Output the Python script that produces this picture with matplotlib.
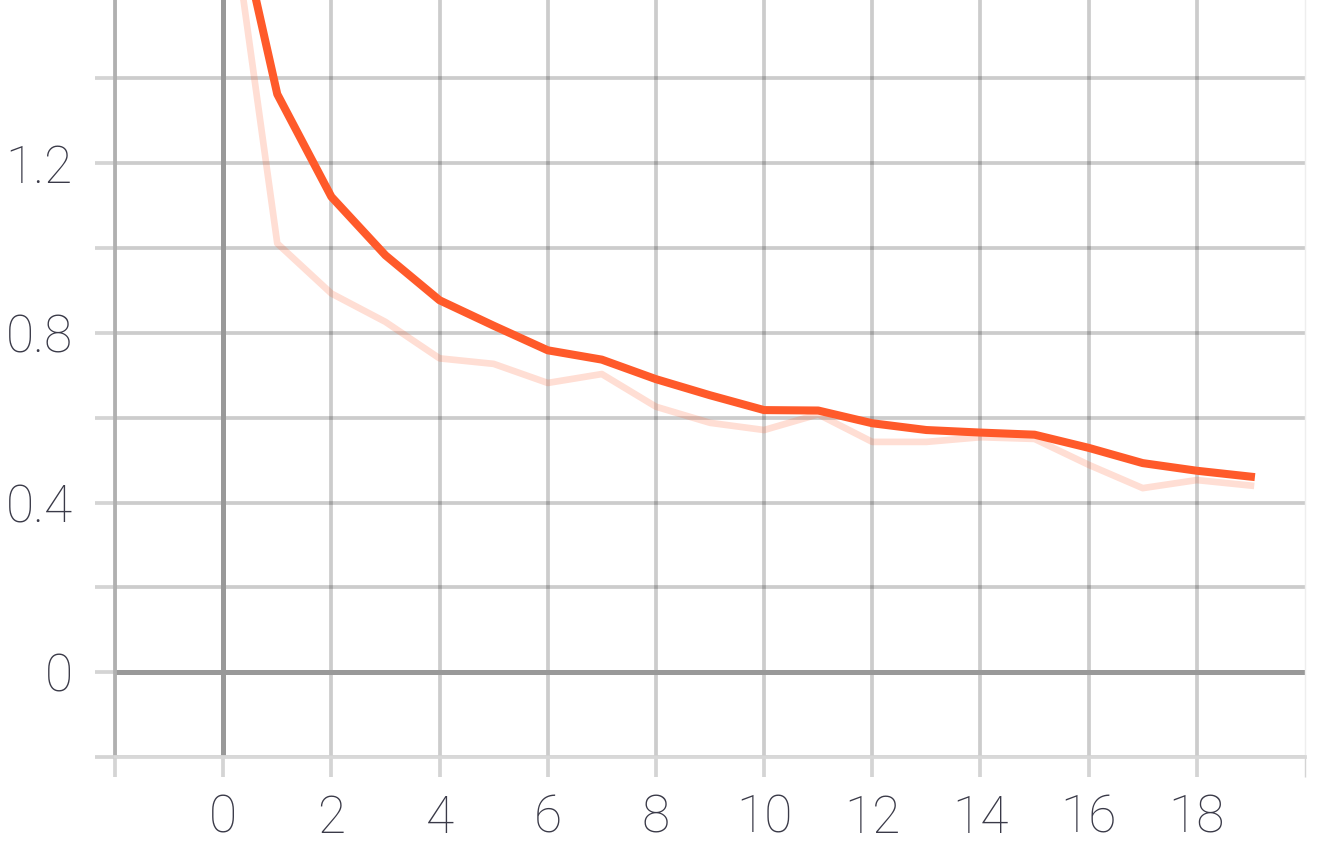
import matplotlib
matplotlib.use("Agg")
import matplotlib.pyplot as plt

# epochs and the two curves (raw = faint, smoothed = bold)
epochs = list(range(20))
raw_loss = [1.93, 1.011, 0.893, 0.826, 0.740, 0.727, 0.682, 0.703, 0.626, 0.588,
            0.571, 0.608, 0.543, 0.543, 0.554, 0.550, 0.489, 0.434, 0.453, 0.440]
smooth_loss = [1.93, 1.363, 1.121, 0.983, 0.877, 0.817, 0.759, 0.737, 0.691, 0.653,
               0.618, 0.617, 0.587, 0.571, 0.565, 0.560, 0.529, 0.493, 0.475, 0.461]

xticks = list(range(-2, 21, 2))
xtick_labels = ['' if (t < 0 or t > 18) else str(t) for t in xticks]
yticks = [-0.2, 0, 0.2, 0.4, 0.6, 0.8, 1.0, 1.2, 1.4]
ytick_labels = ['', '0', '', '0.4', '', '0.8', '', '1.2', '']

plt.rcParams['font.family'] = ['Roboto', 'DejaVu Sans']

fig = plt.figure(figsize=(13.2, 8.48), dpi=100)
ax = fig.add_axes([115 / 1320, 91 / 848, 1190 / 1320, 757 / 848])

orange = '#ff5a2a'
ax.plot(epochs, raw_loss, color=orange, alpha=0.2, lw=4.8, zorder=3)
ax.plot(epochs, smooth_loss, color=orange, lw=5.8, zorder=4)

# zero axes
ax.axhline(0, color='#999999', lw=3.6, zorder=2)
ax.axvline(0, color='#999999', lw=3.6, zorder=2)

ax.set_xlim(-2, 20)
ax.set_ylim(-0.2, 1.585)
ax.set_xticks(xticks)
ax.set_xticklabels(xtick_labels)
ax.set_yticks(yticks)
ax.set_yticklabels(ytick_labels)

ax.grid(True, color='#000000', alpha=0.2, lw=2.7, zorder=1)
ax.set_axisbelow(True)
# no grid line on the right border
ax.xaxis.get_gridlines()[-1].set_visible(False)

ax.spines['top'].set_visible(False)
ax.spines['left'].set_color('#b0b0b0')
ax.spines['left'].set_linewidth(2.7)
ax.spines['bottom'].set_color('#d8d8d8')
ax.spines['bottom'].set_linewidth(2.7)
ax.spines['right'].set_color('#eeeeee')
ax.spines['right'].set_linewidth(1)

ax.tick_params(axis='both', length=14.4, width=2.7, color='#d4d4d4',
               labelsize=37, labelcolor='#3a3a48')
ax.tick_params(axis='x', pad=12)
ax.tick_params(axis='y', pad=16)
ax.xaxis.get_major_ticks()[-1].tick1line.set_color('#eeeeee')
ax.xaxis.get_major_ticks()[-1].tick1line.set_markeredgewidth(1)
for lab in ax.get_xticklabels() + ax.get_yticklabels():
    lab.set_fontweight('light')

fig.savefig('out.png', dpi=100)
